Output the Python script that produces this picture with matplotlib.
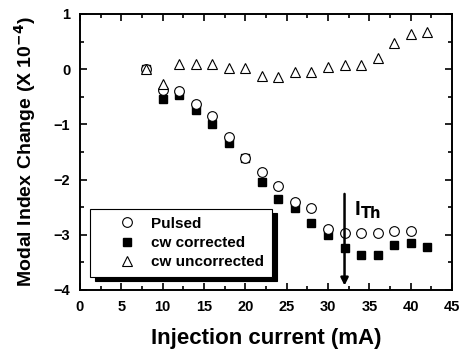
import numpy as np
import matplotlib.pyplot as plt
from matplotlib.ticker import MultipleLocator
from matplotlib.legend_handler import HandlerLine2D

plt.rcParams['font.family'] = ['Liberation Sans', 'DejaVu Sans']
plt.rcParams['font.weight'] = 'bold'
plt.rcParams['mathtext.default'] = 'bf'

# Dane
current_pulsed = [8, 10, 12, 14, 16, 18, 20, 22, 24, 26, 28, 30, 32, 34, 36, 38, 40]
pulsed = [0.0, -0.38, -0.40, -0.63, -0.85, -1.23, -1.61, -1.86, -2.12, -2.41, -2.51,
          -2.90, -2.97, -2.97, -2.97, -2.93, -2.93]

current_cw = [8, 10, 12, 14, 16, 18, 20, 22, 24, 26, 28, 30, 32, 34, 36, 38, 40, 42]
cw_corrected = [0.0, -0.54, -0.47, -0.74, -0.99, -1.34, -1.61, -2.04, -2.35, -2.52, -2.79,
                -3.00, -3.24, -3.37, -3.37, -3.19, -3.15, -3.22]
cw_uncorrected = [0.0, -0.27, 0.09, 0.10, 0.10, 0.02, 0.02, -0.12, -0.15, -0.05, -0.05,
                  0.04, 0.08, 0.08, 0.20, 0.47, 0.63, 0.68]

threshold_current = 32.0

fig = plt.figure(figsize=(4.61, 3.53), dpi=100)
ax = fig.add_axes([0.1735, 0.1785, 0.807, 0.782])

ax.plot(current_pulsed, pulsed, 'o', mfc='white', mec='black', ms=7, mew=0.8,
        label='Pulsed', zorder=3)
ax.plot(current_cw, cw_corrected, 's', mfc='black', mec='black', ms=5.5,
        label='cw corrected', zorder=2)
ax.plot(current_cw, cw_uncorrected, '^', mfc='white', mec='black', ms=7.5, mew=0.8,
        label='cw uncorrected', zorder=4)

# Strzałka progu
ax.annotate('', xy=(threshold_current, -3.92), xytext=(threshold_current, -2.26),
            arrowprops=dict(arrowstyle='-|>', color='black', lw=1.8,
                            mutation_scale=11, shrinkA=0, shrinkB=0))
ax.text(33.2, -2.65, r'I$_{\rm Th}$', fontsize=15, fontweight='bold', va='baseline')

ax.set_xlim(0, 45)
ax.set_ylim(-4, 1)
ax.xaxis.set_major_locator(MultipleLocator(5))
ax.xaxis.set_minor_locator(MultipleLocator(2.5))
ax.yaxis.set_major_locator(MultipleLocator(1))
ax.yaxis.set_minor_locator(MultipleLocator(0.5))
ax.tick_params(which='both', direction='in', top=True, right=True, width=1.2,
               labelsize=10.5, pad=7)
ax.tick_params(which='major', length=5)
ax.tick_params(which='minor', length=3)
for lbl in ax.get_xticklabels() + ax.get_yticklabels():
    lbl.set_fontweight('bold')
for s in ax.spines.values():
    s.set_linewidth(1.4)

ax.set_xlabel('Injection current (mA)', fontsize=16, fontweight='bold', labelpad=10)
ax.set_ylabel(r'Modal Index Change (X 10$^{-4}$)', fontsize=14, fontweight='bold',
              labelpad=11)

leg = ax.legend(loc='lower left', bbox_to_anchor=(0.027, 0.047), fontsize=11,
                frameon=True, fancybox=False,
                shadow={'color': 'black', 'alpha': 1, 'ox': 3.5, 'oy': -3},
                handletextpad=0.5, borderpad=0.5, labelspacing=0.35,
                borderaxespad=0, handlelength=3.0, numpoints=1,
                handler_map={plt.Line2D: HandlerLine2D(xpad=0.85)})
leg.get_frame().set_edgecolor('black')
leg.get_frame().set_linewidth(0.8)

fig.savefig('out.png', dpi=100)
